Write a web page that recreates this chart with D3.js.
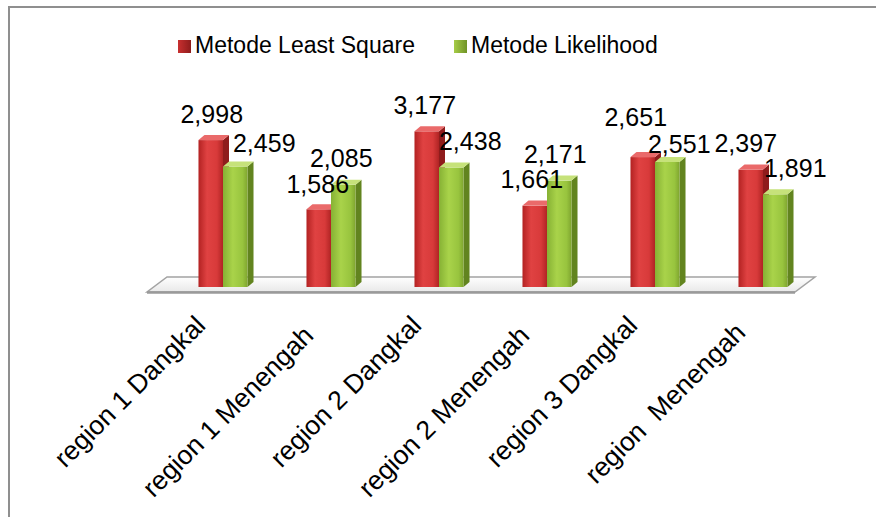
<!DOCTYPE html>
<html><head><meta charset="utf-8">
<script src="https://cdn.jsdelivr.net/npm/d3@7"></script>
<style>
body{margin:0;background:#fff}
svg{display:block}
text{font-family:"Liberation Sans",Arial,sans-serif;fill:#000}
</style>
</head><body>
<svg id="c" width="876" height="517"></svg>
<script>
// ---- data ----
const categories = ["region 1 Dangkal", "region 1 Menengah", "region 2 Dangkal", "region 2 Menengah", "region 3 Dangkal", "region  Menengah"];
const seriesNames = ["Metode Least Square", "Metode Likelihood"];
const leastSquare = [2.998, 1.586, 3.177, 1.661, 2.651, 2.397];
const likelihood = [2.459, 2.085, 2.438, 2.171, 2.551, 1.891];

// ---- layout nudges for value labels (px) ----
const labelDx = [[1, 29], [-1, -2], [-2, 19], [-3, -4], [-7, 12], [-5, 20]];
const labelDy = [[0, 3], [1, 0], [0, 0], [0, 0], [-14, 8], [0, 0]];
const axisLabelDy = [0, 10, 0, 10, 0, 7];

const svg = d3.select("#c");
const defs = svg.append("defs");
const W = 876, H = 517;

const fmt = d3.formatLocale({decimal: ",", thousands: ".", grouping: [3], currency: ["", ""]}).format(".3f");

const baseY = 287;
const x0 = d3.scaleBand().domain(categories).range([169, 817]).paddingInner(0.546).paddingOuter(0.273);
const x1 = d3.scaleBand().domain(seriesNames).range([0, x0.bandwidth()]);
const y = d3.scaleLinear().domain([0, 3.5]).range([baseY, baseY - 3.5 * 49]);

const DX = 6, DY = -5;

// gradients
function hgrad(id, stops) {
  const g = defs.append("linearGradient").attr("id", id).attr("x1", "0").attr("x2", "1").attr("y1", "0").attr("y2", "0");
  stops.forEach(s => g.append("stop").attr("offset", s[0]).attr("stop-color", s[1]));
}
hgrad("redFront", [["0", "#b32222"], ["0.35", "#e04242"], ["0.75", "#d83a3a"], ["1", "#b02424"]]);
hgrad("greenFront", [["0", "#86b134"], ["0.4", "#a9d34a"], ["0.8", "#98c43e"], ["1", "#7fa52f"]]);
const fg = defs.append("linearGradient").attr("id", "floorG").attr("x1", "0").attr("x2", "0").attr("y1", "0").attr("y2", "1");
fg.append("stop").attr("offset", "0").attr("stop-color", "#ffffff");
fg.append("stop").attr("offset", "1").attr("stop-color", "#e8e8e8");
hgrad("redLeg", [["0", "#c83030"], ["1", "#8e1c1c"]]);
hgrad("greenLeg", [["0", "#a6cc48"], ["1", "#6f9326"]]);

const colors = {
  "Metode Least Square": {front: "url(#redFront)", side: "#8f1c1c", top: "#ea6a6a", leg: "url(#redLeg)"},
  "Metode Likelihood": {front: "url(#greenFront)", side: "#62841f", top: "#c6e27a", leg: "url(#greenLeg)"}
};

// outer border (only top and left visible)
svg.append("rect").attr("x", 9).attr("y", 7).attr("width", W + 20).attr("height", H + 20)
  .attr("fill", "#fff").attr("stroke", "#8f8f8f").attr("stroke-width", 2);

// floor
const fl = x0.range()[0] - 2, fr = x0.range()[1] - 2;
const floorPts = [[fl, 277], [fr, 277], [fr - 20, 292], [fl - 20, 292]];
svg.append("path").attr("d", d3.line()(floorPts) + "Z")
  .attr("fill", "url(#floorG)").attr("stroke", "#a3a3a3").attr("stroke-width", 1.5);
svg.append("line").attr("x1", fl - 20).attr("x2", fr - 20).attr("y1", 292.5).attr("y2", 292.5)
  .attr("stroke", "#9a9a9a").attr("stroke-width", 2.5);

// bars
const data = categories.map((c, i) => ({cat: c, i, vals: [
  {s: seriesNames[0], v: leastSquare[i], j: 0},
  {s: seriesNames[1], v: likelihood[i], j: 1}
]}));

const groups = svg.append("g").selectAll("g").data(data).join("g")
  .attr("transform", d => `translate(${x0(d.cat)},0)`);

groups.each(function(d) {
  const g = d3.select(this);
  d.vals.forEach(b => {
    const xl = x1(b.s), w = x1.bandwidth(), yt = y(b.v);
    const c = colors[b.s];
    g.append("path").attr("d", `M${xl + w},${baseY}L${xl + w + DX},${baseY + DY}L${xl + w + DX},${yt + DY}L${xl + w},${yt}Z`)
      .attr("fill", c.side);
    g.append("rect").attr("x", xl).attr("y", yt).attr("width", w).attr("height", baseY - yt).attr("fill", c.front);
    g.append("path").attr("d", `M${xl},${yt}L${xl + DX},${yt + DY}L${xl + w + DX},${yt + DY}L${xl + w},${yt}Z`)
      .attr("fill", c.top);
  });
});

// value labels
groups.each(function(d) {
  const g = d3.select(this);
  d.vals.forEach(b => {
    g.append("text")
      .attr("x", x1(b.s) + x1.bandwidth() / 2 + labelDx[d.i][b.j])
      .attr("y", y(b.v) - 17.5 + labelDy[d.i][b.j])
      .attr("text-anchor", "middle").attr("font-size", 25)
      .text(fmt(b.v));
  });
});

// category axis
const axisG = svg.append("g").attr("transform", `translate(-16,${baseY + 40})`)
  .call(d3.axisBottom(x0).tickSize(0).tickPadding(0));
axisG.select(".domain").remove();
axisG.selectAll("text")
  .attr("font-size", 26.5).attr("font-family", '"Liberation Sans",Arial,sans-serif').attr("fill", "#000")
  .style("white-space", "pre").attr("xml:space", "preserve")
  .attr("text-anchor", "end").attr("dy", 0).attr("y", 0)
  .attr("transform", (c, i) => `translate(0,${axisLabelDy[i]}) rotate(-45)`);

// legend
const legX = [178, 454];
const leg = svg.append("g").selectAll("g").data(seriesNames).join("g")
  .attr("transform", (s, i) => `translate(${legX[i]},40)`);
leg.append("rect").attr("width", 13).attr("height", 13).attr("fill", s => colors[s].leg);
leg.append("text").attr("x", 17).attr("y", 13).attr("font-size", 23).text(s => s);
</script>
</body></html>
